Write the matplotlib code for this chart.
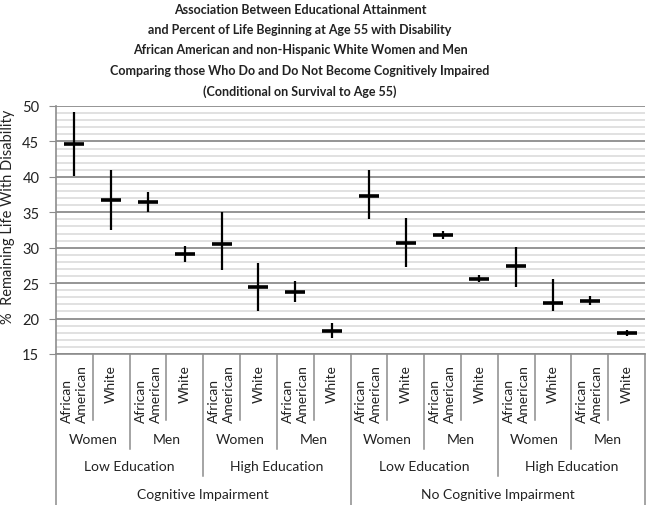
import numpy as np
import matplotlib.pyplot as plt
import matplotlib.transforms as mtransforms

plt.rcParams['font.family'] = ['Lato', 'DejaVu Sans']

# values (percent of remaining life with disability)
means = [44.7, 36.7, 36.5, 29.1, 30.5, 24.4, 23.8, 18.3,
         37.3, 30.7, 31.8, 25.6, 27.4, 22.2, 22.5, 18.0]
highs = [49.1, 41.0, 37.8, 30.2, 35.0, 27.8, 25.3, 19.4,
         41.0, 34.2, 32.3, 26.1, 30.1, 25.6, 23.2, 18.4]
lows = [40.1, 32.5, 35.1, 28.0, 26.9, 21.0, 22.3, 17.3,
        34.0, 27.3, 31.2, 25.1, 24.5, 21.0, 21.9, 17.6]

race_labels = ['African\nAmerican', 'White'] * 8
sex_labels = ['Women', 'Men'] * 4
edu_labels = ['Low Education', 'High Education'] * 2
cog_labels = ['Cognitive Impairment', 'No Cognitive Impairment']

title_lines = ['Association Between Educational Attainment',
               'and Percent of Life Beginning at Age 55 with Disability',
               'African American and non-Hispanic White Women and Men',
               'Comparing those Who Do and Do Not Become Cognitively Impaired',
               '(Conditional on Survival to Age 55)']

W, H = 648, 506
fig = plt.figure(figsize=(W / 100, H / 100), dpi=100)
ax_l, ax_r, ax_b, ax_t = 56, 645, 355, 107
ax = fig.add_axes([ax_l / W, 1 - ax_b / H, (ax_r - ax_l) / W, (ax_b - ax_t) / H])

x = np.arange(len(means))
ax.vlines(x, lows, highs, color='black', lw=1.6, zorder=3)
ax.plot(x, means, ls='none', marker='_', ms=14, mew=2.6, color='black', zorder=4)

ax.set_xlim(-0.5, len(means) - 0.5)
ax.set_ylim(15, 50)
ax.set_yticks(np.arange(15, 51, 5))
ax.set_yticks(np.arange(15, 51, 1), minor=True)
ax.grid(which='major', axis='y', color='#8c8c8c', lw=1.3)
ax.grid(which='minor', axis='y', color='#dcdcdc', lw=1.2)
ax.set_axisbelow(True)
ax.set_xticks([])
ax.tick_params(axis='y', which='major', length=5, color='#8c8c8c', pad=7,
               labelsize=10.5, labelcolor='#222222')
ax.tick_params(axis='y', which='minor', length=0)
for s in ['top', 'right']:
    ax.spines[s].set_visible(False)
for s in ['left', 'bottom']:
    ax.spines[s].set_color('#8c8c8c')
    ax.spines[s].set_linewidth(1.2)

# hierarchical category axis below the plot
trans = mtransforms.blended_transform_factory(ax.transData, fig.transFigure)
def fy(py):
    return 1 - py / H

def sep(xb, bottom):
    ax.plot([xb, xb], [fy(ax_b), fy(bottom)], transform=trans, color='#8c8c8c',
            lw=1.1, clip_on=False)

fs = 10
for i, lab in enumerate(race_labels):
    ax.text(i, fy(365), lab, transform=trans, rotation=90, ha='center', va='top',
            multialignment='left', fontsize=fs, color='#222222', linespacing=1.3)
    if i % 2 == 0:
        sep(i + 0.5, 421)
for j, lab in enumerate(sex_labels):
    ax.text(2 * j + 0.5, fy(440), lab, transform=trans, ha='center', va='center',
            fontsize=fs, color='#222222')
    if j % 2 == 0:
        sep(2 * j + 1.5, 450)
for j, lab in enumerate(edu_labels):
    ax.text(4 * j + 1.5, fy(467), lab, transform=trans, ha='center', va='center',
            fontsize=fs, color='#222222')
    if j % 2 == 0:
        sep(4 * j + 3.5, 477)
for j, lab in enumerate(cog_labels):
    ax.text(8 * j + 3.5, fy(495), lab, transform=trans, ha='center', va='center',
            fontsize=fs, color='#222222')
for xb in [-0.5, 7.5, 15.5]:
    sep(xb, H)

fig.text(8 / W, fy(217), '%  Remaining Life With Disability', rotation=90,
         ha='center', va='center', fontsize=10.5, color='#222222')
for k, line in enumerate(title_lines):
    fig.text(300 / W, fy(13.5 + 20.5 * k), line, ha='center', va='baseline',
             fontsize=9, fontweight='bold', color='#222222')

fig.savefig('out.png', dpi=100)
